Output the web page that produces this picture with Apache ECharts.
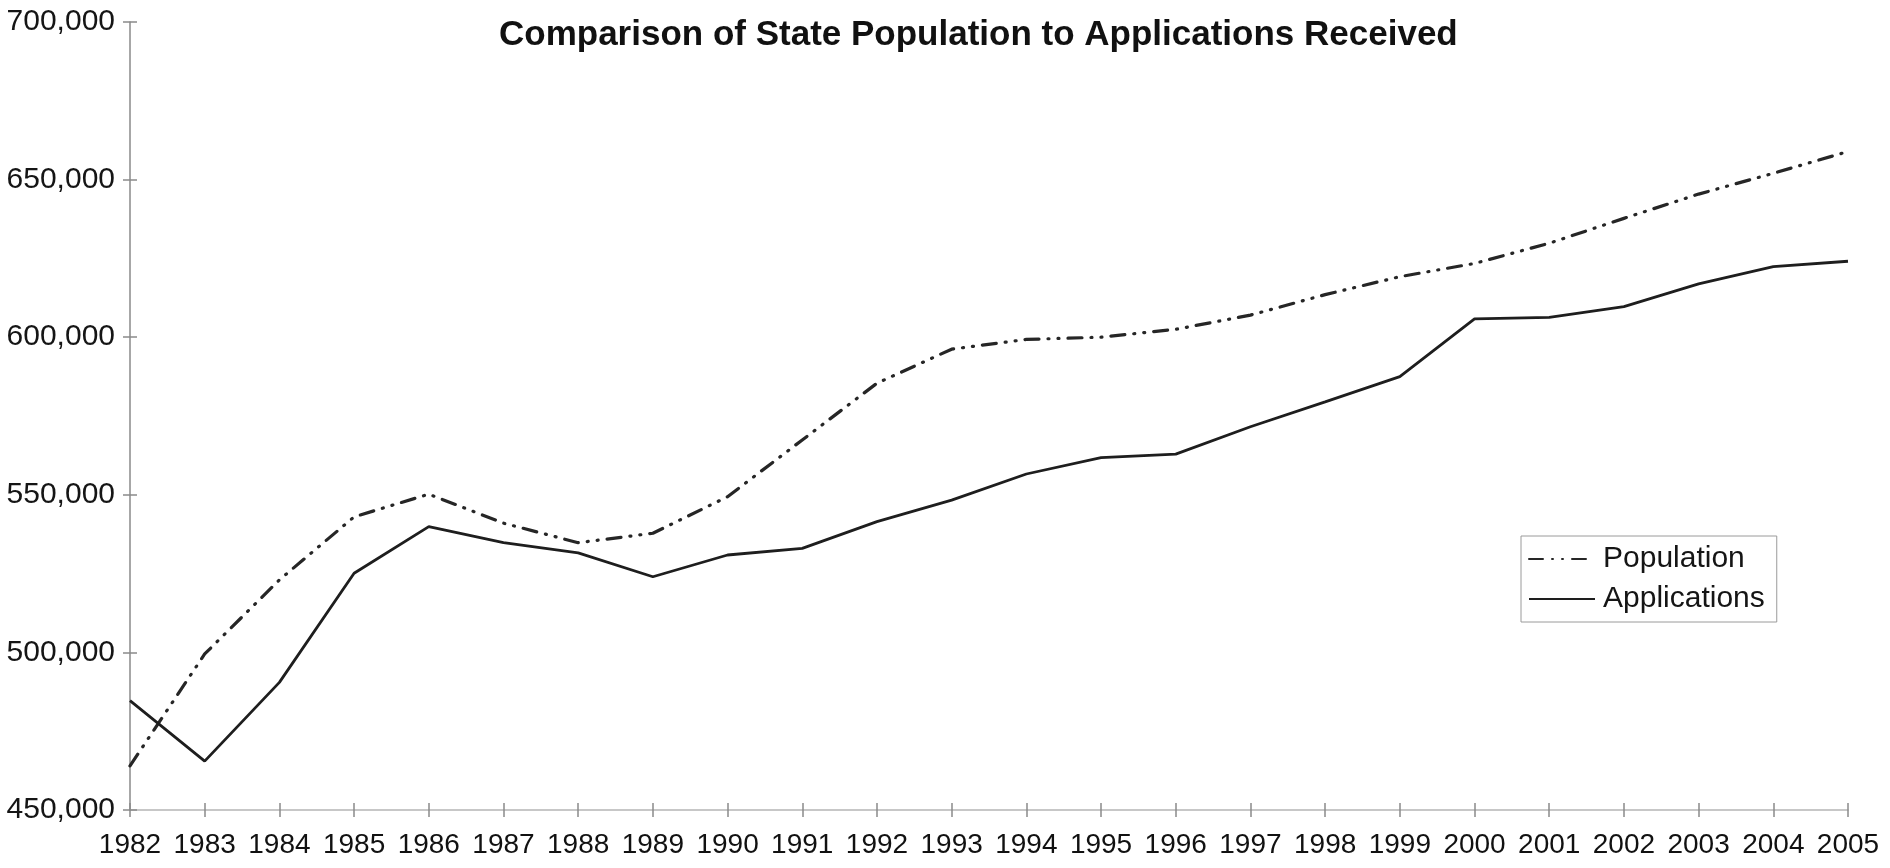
<!DOCTYPE html>
<html>
<head>
<meta charset="utf-8">
<script src="https://cdn.jsdelivr.net/npm/echarts@6/dist/echarts.min.js"></script>
<style>
html,body{margin:0;padding:0;background:#fff;}
#chart{width:1890px;height:868px;}
</style>
</head>
<body>
<div id="chart"></div>
<script>
const years = ['1982','1983','1984','1985','1986','1987','1988','1989','1990','1991','1992','1993','1994','1995','1996','1997','1998','1999','2000','2001','2002','2003','2004','2005'];
const population = [464000,499500,523000,543000,550200,541000,534800,537800,549400,567400,585400,596200,599300,600000,602500,607000,613500,619200,623400,629800,637700,645400,652000,658900];
const applications = [484700,465500,490500,525100,539900,534800,531600,524000,530900,533000,541500,548300,556600,561800,562900,571600,579500,587500,605800,606300,609700,616900,622400,624100];
const yTicks = {min: 450000, max: 700000, interval: 50000};

const chart = echarts.init(document.getElementById('chart'), null, {renderer: 'canvas'});
const fmt = v => v.toLocaleString('en-US');
const axisFont = 'Liberation Sans Narrow, Liberation Sans, Arial, sans-serif';
chart.setOption({
  backgroundColor: '#ffffff',
  animation: false,
  title: {
    text: 'Comparison of State Population to Applications Received',
    left: 494,
    top: 13,
    textStyle: {fontFamily: 'Liberation Sans', fontWeight: 'bold', fontSize: 35, color: '#111111'}
  },
  legend: {
    orient: 'vertical',
    left: 1521,
    top: 536,
    padding: [8, 12, 8, 7],
    itemGap: 10,
    itemWidth: 66,
    itemHeight: 14,
    borderColor: '#9a9a9a',
    borderWidth: 1,
    itemStyle: {opacity: 0},
    textStyle: {fontFamily: 'Liberation Sans', fontSize: 30, color: '#151515', padding: [0,0,0,3]},
    data: ['Population', 'Applications']
  },
  grid: {left: 130, right: 42, top: 22, bottom: 58, containLabel: false},
  xAxis: [{
    type: 'category',
    data: years,
    boundaryGap: false,
    axisLine: {lineStyle: {color: '#b5b5b5', width: 1.5}},
    axisTick: {alignWithLabel: true, length: 7, lineStyle: {color: '#8a8a8a', width: 1.5}},
    axisLabel: {fontFamily: axisFont, fontSize: 28, color: '#111111', margin: 21, interval: 0}
  }, {
    type: 'category',
    data: years,
    boundaryGap: false,
    position: 'bottom',
    axisLine: {show: false},
    axisTick: {inside: true, length: 7, lineStyle: {color: '#8a8a8a', width: 1.5}},
    axisLabel: {show: false}
  }],
  yAxis: [{
    type: 'value',
    min: yTicks.min,
    max: yTicks.max,
    interval: yTicks.interval,
    splitLine: {show: false},
    axisLine: {show: true, lineStyle: {color: '#8a8a8a', width: 1.5}},
    axisTick: {show: true, length: 7, lineStyle: {color: '#8a8a8a', width: 1.5}},
    axisLabel: {fontFamily: 'Liberation Sans', fontSize: 30, color: '#151515', margin: 15, formatter: fmt}
  }, {
    type: 'value',
    min: yTicks.min,
    max: yTicks.max,
    interval: yTicks.interval,
    position: 'left',
    splitLine: {show: false},
    axisLine: {show: false},
    axisTick: {show: true, inside: true, length: 7, lineStyle: {color: '#8a8a8a', width: 1.5}},
    axisLabel: {show: false}
  }],
  series: [
    {
      name: 'Population',
      type: 'line',
      data: population,
      symbol: 'none',
      lineStyle: {color: '#262626', width: 3.2, type: [14, 9, 1, 9, 1, 9], cap: 'round'},
      itemStyle: {color: '#262626'}
    },
    {
      name: 'Applications',
      type: 'line',
      data: applications,
      symbol: 'none',
      lineStyle: {color: '#1e1e1e', width: 2.8, type: 'solid'},
      itemStyle: {color: '#1e1e1e'}
    }
  ]
});
</script>
</body>
</html>
